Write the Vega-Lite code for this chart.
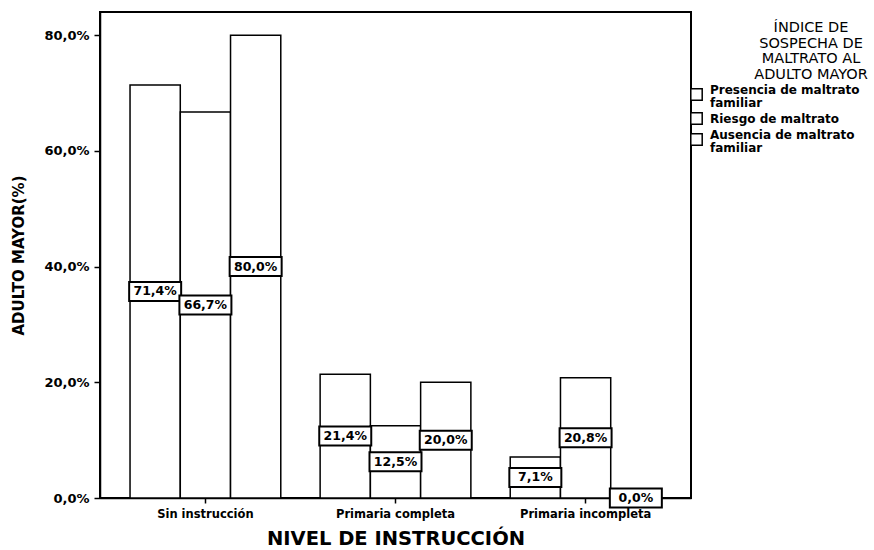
{
  "$schema": "https://vega.github.io/schema/vega-lite/v6.json",
  "width": 591,
  "height": 486,
  "autosize": {"type": "none"},
  "padding": {"left": 100, "top": 12, "right": 183, "bottom": 52},
  "background": "white",
  "config": {
    "locale": {"number": {"decimal": ",", "thousands": ".", "grouping": [3], "currency": ["", "€"]}},
    "view": {"stroke": "black", "strokeWidth": 2},
    "font": "DejaVu Sans",
    "axis": {"grid": false, "domainColor": "black", "domainWidth": 1.5, "tickColor": "black", "tickWidth": 1.5, "labelColor": "black", "titleColor": "black"}
  },
  "data": {
    "values": [
      {"nivel": "Sin instrucción", "indice": "Presencia de maltrato familiar", "pct": 0.714},
      {"nivel": "Sin instrucción", "indice": "Riesgo de maltrato", "pct": 0.667},
      {"nivel": "Sin instrucción", "indice": "Ausencia de maltrato familiar", "pct": 0.800},
      {"nivel": "Primaria completa", "indice": "Presencia de maltrato familiar", "pct": 0.214},
      {"nivel": "Primaria completa", "indice": "Riesgo de maltrato", "pct": 0.125},
      {"nivel": "Primaria completa", "indice": "Ausencia de maltrato familiar", "pct": 0.200},
      {"nivel": "Primaria incompleta", "indice": "Presencia de maltrato familiar", "pct": 0.071},
      {"nivel": "Primaria incompleta", "indice": "Riesgo de maltrato", "pct": 0.208},
      {"nivel": "Primaria incompleta", "indice": "Ausencia de maltrato familiar", "pct": 0.000}
    ]
  },
  "encoding": {
    "x": {
      "field": "nivel",
      "type": "nominal",
      "sort": ["Sin instrucción", "Primaria completa", "Primaria incompleta"],
      "scale": {"paddingInner": 0.207, "paddingOuter": 0.158},
      "axis": {
        "title": "NIVEL DE INSTRUCCIÓN",
        "titleFontSize": 19.5,
        "titleFontWeight": "bold",
        "titleBaseline": "middle",
        "titleY": 40,
        "labelFontSize": 11.5,
        "labelFontWeight": "bold",
        "labelAngle": 0,
        "labelPadding": 5,
        "tickSize": 5,
        "labelLimit": 300
      }
    },
    "xOffset": {
      "field": "indice",
      "type": "nominal",
      "sort": ["Presencia de maltrato familiar", "Riesgo de maltrato", "Ausencia de maltrato familiar"],
      "scale": {"paddingInner": 0, "paddingOuter": 0}
    }
  },
  "layer": [
    {
      "mark": {"type": "bar", "stroke": "black", "strokeWidth": 1.5},
      "encoding": {
        "y": {
          "field": "pct",
          "type": "quantitative",
          "scale": {"domain": [0, 0.84], "nice": false},
          "axis": {
            "format": ".1%",
            "values": [0, 0.2, 0.4, 0.6, 0.8],
            "title": "ADULTO MAYOR(%)",
            "titleFontSize": 15,
            "titleFontWeight": "bold",
            "titleBaseline": "middle",
            "titleX": -82,
            "titleY": 243,
            "titleAngle": -90,
            "labelFontSize": 13,
            "labelFontWeight": "bold",
            "tickSize": 6,
            "labelPadding": 5
          }
        },
        "fill": {
          "field": "indice",
          "type": "nominal",
          "scale": {
            "domain": ["Presencia de maltrato familiar", "Riesgo de maltrato", "Ausencia de maltrato familiar"],
            "range": ["white", "white", "white"]
          },
          "legend": {
            "orient": "none",
            "legendX": 590,
            "legendY": 9,
            "title": ["ÍNDICE DE", "SOSPECHA DE", "MALTRATO AL", "ADULTO MAYOR"],
            "titleFontSize": 14.5,
            "titleFontWeight": "normal",
            "titleLineHeight": 15.5,
            "titleAlign": "center",
            "titleAnchor": "middle",
            "titleLimit": 400,
            "titlePadding": 6,
            "titleColor": "black",
            "symbolType": "square",
            "symbolSize": 130,
            "symbolStrokeColor": "black",
            "symbolStrokeWidth": 1.5,
            "symbolFillColor": "white",
            "labelFontSize": 12,
            "labelFontWeight": "bold",
            "labelColor": "black",
            "labelOffset": 7,
            "labelLimit": 300,
            "rowPadding": 0,
            "labelExpr": "indexof(datum.label, ' familiar') > 0 ? [replace(datum.label, ' familiar', ''), 'familiar'] : datum.label",
            "encode": {
              "labels": {"update": {
                "lineHeight": {"value": 13},
                "dy": {"signal": "indexof(datum.label, ' familiar') > 0 ? -5 : 0"}
              }},
              "title": {"update": {"dx": {"value": 36}}}
            }
          }
        }
      }
    },
    {
      "mark": {
        "type": "point",
        "shape": "M-1,-0.365H1V0.365H-1Z",
        "size": 2704,
        "filled": true,
        "fill": "white",
        "stroke": "black",
        "strokeWidth": 2,
        "opacity": 1
      },
      "encoding": {
        "y": {"field": "pct", "type": "quantitative", "scale": {"domain": [0, 1.68], "nice": false}, "axis": null}
      }
    },
    {
      "mark": {"type": "text", "fontSize": 12.5, "fontWeight": "bold", "color": "black", "baseline": "middle", "align": "center"},
      "encoding": {
        "y": {"field": "pct", "type": "quantitative", "scale": {"domain": [0, 1.68], "nice": false}, "axis": null},
        "text": {"field": "pct", "type": "quantitative", "format": ".1%"}
      }
    }
  ],
  "resolve": {"scale": {"y": "independent"}}
}
